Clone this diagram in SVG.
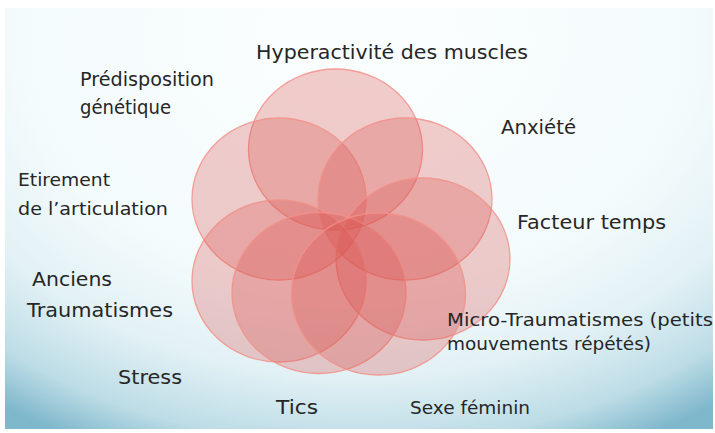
<svg xmlns="http://www.w3.org/2000/svg" width="715" height="433" viewBox="0 0 715 433">
  <defs>
    <radialGradient id="slideBg" gradientUnits="userSpaceOnUse" cx="357" cy="40" r="450" gradientTransform="translate(357 40) scale(1.35 1) translate(-357 -40)">
      <stop offset="0" stop-color="#fbfefe"/>
      <stop offset="0.55" stop-color="#f4fbfc"/>
      <stop offset="0.75" stop-color="#e2f1f5"/>
      <stop offset="0.9" stop-color="#bcdce6"/>
      <stop offset="1" stop-color="#7fb7cb"/>
    </radialGradient>
  </defs>
  <style>
    .petal { fill: #d9534f; fill-opacity: 0.29; stroke: #f29088; stroke-opacity: 0.85; stroke-width: 1.3; }
    .lbl { font-family: "DejaVu Sans", "Liberation Sans", Arial, sans-serif; fill: #262626; }
  </style>

  <!-- page and slide background -->
  <rect x="0" y="0" width="715" height="433" fill="#ffffff"/>
  <rect x="5" y="8" width="708" height="421" fill="url(#slideBg)"/>

  <!-- overlapping petals -->
  <g id="petals">
    <ellipse id="petal-top" class="petal" cx="335.5" cy="149.5" rx="87" ry="80.5"/>
    <ellipse id="petal-upper-left" class="petal" cx="279" cy="199" rx="87" ry="81"/>
    <ellipse id="petal-upper-right" class="petal" cx="405" cy="199" rx="87" ry="81"/>
    <ellipse id="petal-right" class="petal" cx="423" cy="259" rx="87" ry="81"/>
    <ellipse id="petal-lower-left" class="petal" cx="279" cy="281" rx="87" ry="81"/>
    <ellipse id="petal-lower-mid-left" class="petal" cx="319" cy="293" rx="87" ry="80.5"/>
    <ellipse id="petal-lower-mid-right" class="petal" cx="378.5" cy="294" rx="87" ry="81"/>
  </g>

  <!-- factor labels -->
  <g id="label-hyperactivite">
    <text class="lbl" x="256" y="59" font-size="20" textLength="272" lengthAdjust="spacingAndGlyphs">Hyperactivité des muscles</text>
  </g>
  <g id="label-predisposition">
    <text class="lbl" x="80" y="86" font-size="19" textLength="134" lengthAdjust="spacingAndGlyphs">Prédisposition</text>
    <text class="lbl" x="80" y="114" font-size="19" textLength="91" lengthAdjust="spacingAndGlyphs">génétique</text>
  </g>
  <g id="label-anxiete">
    <text class="lbl" x="501" y="134" font-size="20" textLength="75" lengthAdjust="spacingAndGlyphs">Anxiété</text>
  </g>
  <g id="label-etirement">
    <text class="lbl" x="18" y="186" font-size="18.5" textLength="92" lengthAdjust="spacingAndGlyphs">Etirement</text>
    <text class="lbl" x="18" y="215" font-size="18.5" textLength="150" lengthAdjust="spacingAndGlyphs">de l’articulation</text>
  </g>
  <g id="label-facteur-temps">
    <text class="lbl" x="517" y="229" font-size="20" textLength="149" lengthAdjust="spacingAndGlyphs">Facteur temps</text>
  </g>
  <g id="label-anciens">
    <text class="lbl" x="32" y="286" font-size="19.5" textLength="80" lengthAdjust="spacingAndGlyphs">Anciens</text>
    <text class="lbl" x="27" y="317" font-size="19.5" textLength="146" lengthAdjust="spacingAndGlyphs">Traumatismes</text>
  </g>
  <g id="label-micro">
    <text class="lbl" x="447" y="326" font-size="18" textLength="266" lengthAdjust="spacingAndGlyphs">Micro-Traumatismes  (petits</text>
    <text class="lbl" x="447" y="350" font-size="18" textLength="204" lengthAdjust="spacingAndGlyphs">mouvements répétés)</text>
  </g>
  <g id="label-stress">
    <text class="lbl" x="118" y="384" font-size="19.5" textLength="64" lengthAdjust="spacingAndGlyphs">Stress</text>
  </g>
  <g id="label-tics">
    <text class="lbl" x="276" y="414" font-size="19.5" textLength="42" lengthAdjust="spacingAndGlyphs">Tics</text>
  </g>
  <g id="label-sexe">
    <text class="lbl" x="410" y="414" font-size="18" textLength="120" lengthAdjust="spacingAndGlyphs">Sexe féminin</text>
  </g>

  <!-- no connectors in this figure -->
  <g id="connectors"/>
</svg>
